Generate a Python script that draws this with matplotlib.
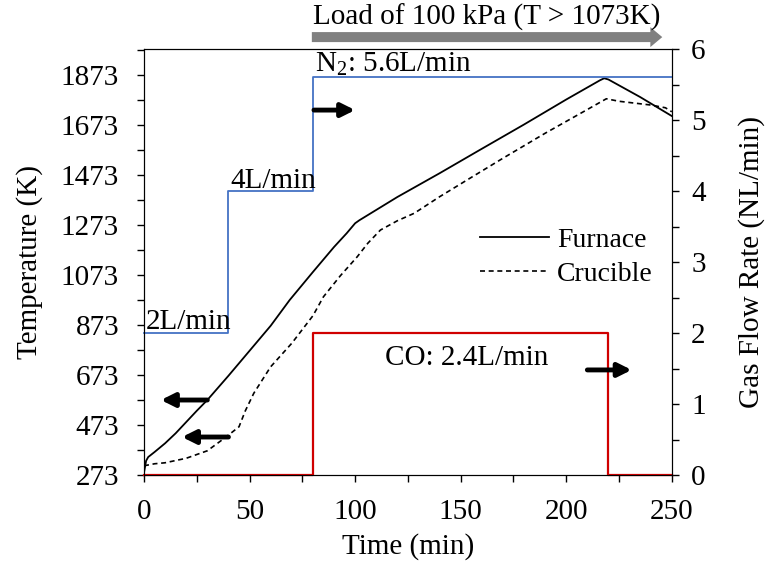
import matplotlib
matplotlib.use("Agg")
import matplotlib.pyplot as plt

plt.rcParams["font.family"] = ["Liberation Serif", "DejaVu Serif"]
plt.rcParams["mathtext.fontset"] = "custom"
plt.rcParams["mathtext.rm"] = "Liberation Serif"
plt.rcParams["mathtext.it"] = "Liberation Serif:italic"

# --- temperatures (K) vs time (min) ---
furnace_t = [0, 1, 2, 5, 10, 15, 20, 25, 30, 40, 50, 60, 69, 80, 90, 96, 100, 102,
             120, 140, 159, 180, 200, 216, 218, 220, 235, 250]
furnace_T = [283, 330, 345, 365, 400, 440, 485, 530, 573, 670, 770, 870, 973, 1085,
             1185, 1240, 1280, 1292, 1385, 1480, 1573, 1675, 1775, 1852, 1860, 1855,
             1785, 1709]

crucible_t = [0, 5, 10, 20, 30, 39, 45, 48, 52, 60, 70, 80, 85, 93, 101, 106, 112,
              120, 128, 140, 153, 170, 190, 210, 219, 225, 240, 247, 250]
crucible_T = [310, 318, 322, 340, 370, 426, 466, 530, 600, 706, 800, 910, 986, 1070,
              1146, 1200, 1253, 1290, 1320, 1386, 1453, 1540, 1640, 1735, 1778, 1768,
              1753, 1742, 1726]

# --- gas flow (NL/min), step profiles ---
n2_t = [0, 40, 40, 80, 80, 250]
n2_q = [2.0, 2.0, 4.0, 4.0, 5.6, 5.6]
co_t = [0, 80, 80, 220, 220, 250]
co_q = [0.0, 0.0, 2.0, 2.0, 0.0, 0.0]

temp_ticks = [273, 473, 673, 873, 1073, 1273, 1473, 1673, 1873]
flow_ticks = [0, 1, 2, 3, 4, 5, 6]
time_ticks = [0, 50, 100, 150, 200, 250]

FS = 21
fig = plt.figure(figsize=(7.66, 5.68), dpi=100)
ax1 = fig.add_axes([0.188, 0.1637, 0.689, 0.75])
ax2 = ax1.twinx()

ax1.plot(furnace_t, furnace_T, color="black", lw=1.3, label="Furnace")
ax1.plot(crucible_t, crucible_T, color="black", lw=1.2, dashes=(3, 2.2), label="Crucible")
ax2.plot(n2_t, n2_q, color="#4472C4", lw=1.3, clip_on=False)
ax2.plot(co_t, co_q, color="#D00000", lw=1.6, clip_on=False)

ax1.set_xlim(0, 250)
ax1.set_ylim(273, 1977)
ax2.set_ylim(0, 6)
ax1.set_xticks(time_ticks)
ax1.set_xticks(range(25, 250, 50), minor=True)
ax1.set_yticks(temp_ticks)
ax1.set_yticks(range(373, 1977, 200), minor=True)
ax2.set_yticks(flow_ticks)
ax2.set_yticks([0.5, 1.5, 2.5, 3.5, 4.5, 5.5], minor=True)

ax1.tick_params(axis="y", which="both", direction="out", length=5, width=1, labelsize=FS, pad=13)
ax1.tick_params(axis="x", which="both", direction="out", length=5, width=1, labelsize=FS, pad=12)
ax2.tick_params(axis="y", which="both", direction="out", length=5, width=1, labelsize=FS, pad=9)

ax1.set_xlabel("Time (min)", fontsize=FS, labelpad=6)
ax1.set_ylabel("Temperature (K)", fontsize=FS, labelpad=13)
ax2.set_ylabel("Gas Flow Rate (NL/min)", fontsize=FS, labelpad=23)

ax1.legend(loc="center right", bbox_to_anchor=(1.012, 0.511), frameon=False,
           fontsize=FS - 1, handlelength=2.5, handletextpad=0.3, labelspacing=0.3)

# flow annotations (data coords on the flow axis)
ax2.text(1, 2.06, "2L/min", fontsize=FS, ha="left", va="baseline")
ax2.text(41, 4.04, "4L/min", fontsize=FS, ha="left", va="baseline")
ax2.text(81, 5.68, "N$_2$: 5.6L/min", fontsize=FS, ha="left", va="baseline")
ax2.text(114, 1.65, "CO: 2.4L/min", fontsize=FS, ha="left", va="center")

# axis direction arrows
arrow = dict(arrowstyle="-|>,head_length=0.8,head_width=0.4", color="black", lw=3.5,
             shrinkA=0, shrinkB=0)
ax1.annotate("", xy=(8, 573), xytext=(30, 573), arrowprops=arrow)
ax1.annotate("", xy=(18, 425), xytext=(40, 425), arrowprops=arrow)
ax2.annotate("", xy=(100, 5.14), xytext=(80.5, 5.14), arrowprops=arrow)
ax2.annotate("", xy=(231, 1.48), xytext=(210, 1.48), arrowprops=arrow)

# pressure load arrow above the plot
ax1.annotate("", xy=(245.5, 1.028), xytext=(79.5, 1.028), xycoords=("data", "axes fraction"),
             arrowprops=dict(arrowstyle="simple,head_length=0.86,head_width=1.44,tail_width=0.72",
                             mutation_scale=10, color="#808080", lw=0, shrinkA=0, shrinkB=0),
             annotation_clip=False)
ax1.text(80, 1.057, "Load of 100 kPa (T > 1073K)", fontsize=FS, ha="left", va="baseline",
         transform=ax1.get_xaxis_transform())

fig.savefig("out.png", dpi=100)
